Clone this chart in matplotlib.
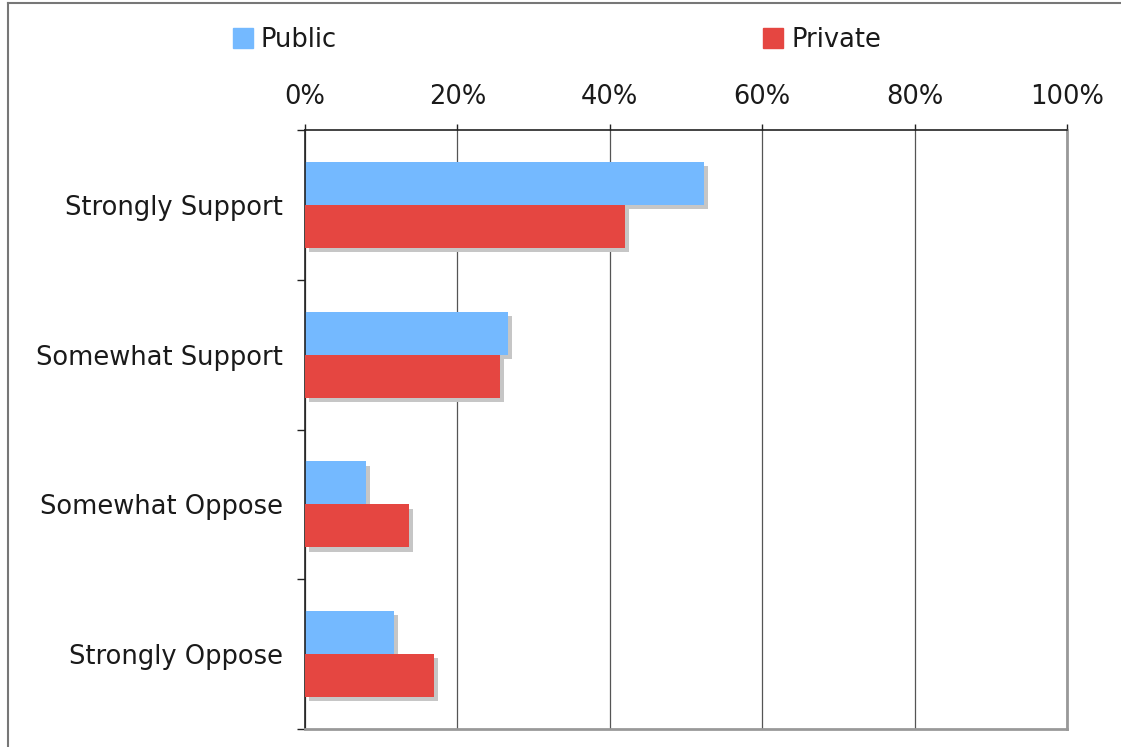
import matplotlib
matplotlib.use("Agg")
import matplotlib.pyplot as plt
import matplotlib.patheffects as pe
from matplotlib.lines import Line2D
from matplotlib.ticker import FixedLocator, PercentFormatter
import numpy as np

plt.rcParams['font.family'] = ['DejaVu Sans']

categories = ['Strongly Support', 'Somewhat Support', 'Somewhat Oppose', 'Strongly Oppose']
public = [52.4, 26.6, 8.0, 11.7]
private = [42.0, 25.6, 13.6, 16.9]
series_names = ['Public', 'Private']
x_ticks = [0, 20, 40, 60, 80, 100]

blue = '#74b9ff'
red = '#e54641'
txt = '#1a1a1a'
shadow = [pe.SimplePatchShadow(offset=(3, -3), shadow_rgbFace='#c6c6c6', alpha=1.0), pe.Normal()]

fig = plt.figure(figsize=(11.21, 7.47), dpi=100)
ax = fig.add_axes([305 / 1121, 1 - 729 / 747, 762 / 1121, 599 / 747])

y = np.arange(len(categories))
h = 0.287
ax.barh(y - h / 2, public, height=h, color=blue, path_effects=shadow, zorder=2)
ax.barh(y + h / 2, private, height=h, color=red, path_effects=shadow, zorder=3)

ax.set_xlim(0, 100)
ax.set_ylim(len(categories) - 0.5, -0.5)
ax.set_axisbelow(True)

# x axis on top
ax.xaxis.tick_top()
ax.set_xticks(x_ticks)
ax.xaxis.set_major_formatter(PercentFormatter(decimals=0))
ax.tick_params(axis='x', direction='out', length=4.5, width=1, color='#222222',
               labelsize=18.5, labelcolor=txt, pad=10)
ax.grid(axis='x', color='#555555', linewidth=0.9)

# category labels, ticks at boundaries
ax.set_yticks(y)
ax.set_yticklabels(categories)
ax.yaxis.set_minor_locator(FixedLocator(np.arange(len(categories) + 1) - 0.5))
ax.tick_params(axis='y', which='major', length=0, labelsize=18.5, labelcolor=txt, pad=16)
ax.tick_params(axis='y', which='minor', length=5.5, width=1, color='#222222')

ax.spines['top'].set_color('#222222')
ax.spines['top'].set_linewidth(1.2)
ax.spines['left'].set_color('#222222')
ax.spines['left'].set_linewidth(1.2)
ax.spines['right'].set_color('#999999')
ax.spines['right'].set_linewidth(2)
ax.spines['bottom'].set_color('#999999')
ax.spines['bottom'].set_linewidth(2)

# legend
handles = [plt.Rectangle((0, 0), 1, 1, color=blue), plt.Rectangle((0, 0), 1, 1, color=red)]
fig.legend(handles, series_names, loc='center left', bbox_to_anchor=(233 / 1121, 1 - 40 / 747),
           ncol=2, frameon=False, fontsize=18.5, handlelength=0.78, handleheight=0.78,
           handletextpad=0.3, columnspacing=16.6, borderpad=0, borderaxespad=0,
           labelcolor=txt)

# outer frame (top and left edges visible)
fig.add_artist(Line2D([8 / 1121, 1], [1 - 3 / 747, 1 - 3 / 747], transform=fig.transFigure,
                      color='#777777', linewidth=1.5))
fig.add_artist(Line2D([8 / 1121, 8 / 1121], [0, 1 - 3 / 747], transform=fig.transFigure,
                      color='#777777', linewidth=1.5))

fig.savefig('out.png', dpi=100)
